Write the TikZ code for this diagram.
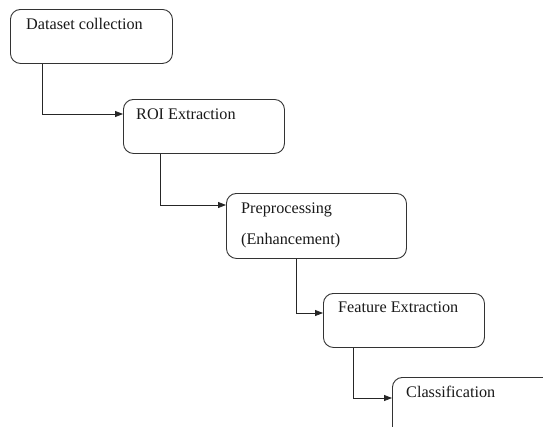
\documentclass[tikz,border=0pt]{standalone}
\usepackage{fontspec}
\setmainfont{Liberation Serif}
\newfontfamily\tnr{Liberation Serif}
\usetikzlibrary{arrows.meta,calc}
\begin{document}
\begin{tikzpicture}[x=1pt,y=-1pt,
  box/.style={draw=black!80, line width=0.9pt, rounded corners=10pt, anchor=north west, inner sep=0pt},
  lbl/.style={anchor=base west, inner sep=0pt, text=black!90, font=\tnr\fontsize{16.2}{19}\selectfont},
  arr/.style={draw=black!85, line width=0.8pt, -{Triangle[length=8pt,width=6pt]}}]
\useasboundingbox (0,0) rectangle (543,426);
\clip (0,0) rectangle (543,426);
\fill[white] (0,0) rectangle (543,426);
% boxes
\node[box, minimum width=162pt, minimum height=54pt] (b1) at (10,9) {};
\node[box, minimum width=161pt, minimum height=54pt] (b2) at (123,99) {};
\node[box, minimum width=180pt, minimum height=65pt] (b3) at (226,193) {};
\node[box, minimum width=161pt, minimum height=54pt] (b4) at (323,293) {};
\node[box, minimum width=170pt, minimum height=62pt] (b5) at (392,377) {};
% labels
\node[lbl] (t1) at (26,29.5) {Dataset collection};
\node[lbl] (t2) at (136,119.5) {ROI Extraction};
\node[lbl] (t3a) at (241,213.5) {Preprocessing};
\node[lbl] (t3b) at (241,244.5) {(Enhancement)};
\node[lbl] (t4) at (338,312.5) {Feature Extraction};
\node[lbl] (t5) at (406,397) {Classification};
% bends
\coordinate (k1) at (42,114);
\coordinate (k2) at (160,205);
\coordinate (k3) at (296,313);
\coordinate (k4) at (353,398);
% connectors
\draw[arr] (b1.south -| k1) -- (k1) -- (k1 -| b2.west);
\draw[arr] (b2.south -| k2) -- (k2) -- (k2 -| b3.west);
\draw[arr] (b3.south -| k3) -- (k3) -- (k3 -| b4.west);
\draw[arr] (b4.south -| k4) -- (k4) -- (k4 -| b5.west);
\end{tikzpicture}
\end{document}
